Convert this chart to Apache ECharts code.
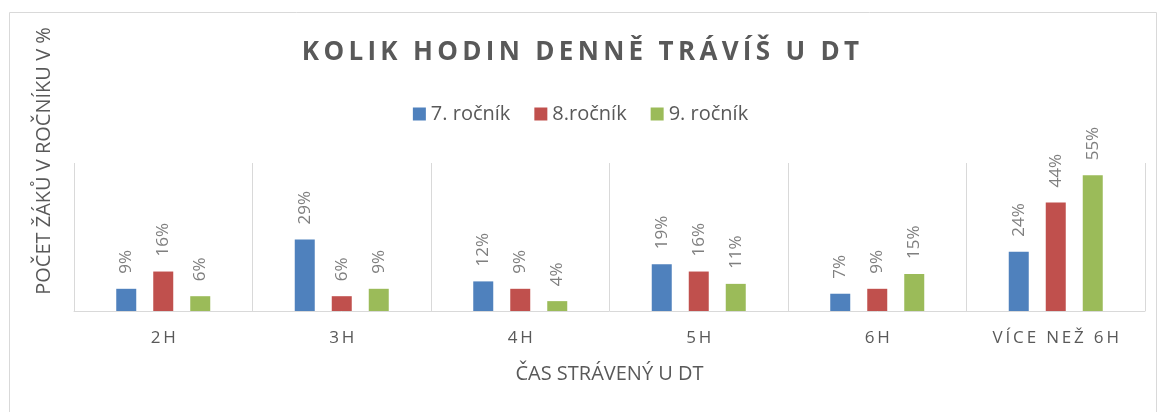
<!DOCTYPE html>
<html>
<head>
<meta charset="utf-8">
<script src="https://cdn.jsdelivr.net/npm/echarts@6/dist/echarts.min.js"></script>
<style>
  html, body { margin: 0; padding: 0; background: #fff; }
  #chart { width: 1161px; height: 412px; }
</style>
</head>
<body>
<div id="chart"></div>
<script>
// kategorie a hodnoty (v %)
const categories = ['2H', '3H', '4H', '5H', '6H', 'VÍCE NEŽ 6H'];
const seriesNames = ['7. ročník', '8.ročník', '9. ročník'];
const rocnik7 = [9, 29, 12, 19, 7, 24];
const rocnik8 = [16, 6, 9, 16, 9, 44];
const rocnik9 = [6, 9, 4, 11, 15, 55];
const colors = ['#4f81bd', '#c0504d', '#9bbb59'];

const chart = echarts.init(document.getElementById('chart'));

// proložení písmen mezerou (Excel má rozpal písmen)
const spaced = (s, sp) => s.split('').join(sp);

function barSeries(name, data, color) {
    return {
        name: name,
        type: 'bar',
        data: data,
        barWidth: 20,
        barGap: '85%',
        itemStyle: { color: color },
        label: {
            show: true,
            position: 'top',
            rotate: 90,
            align: 'left',
            verticalAlign: 'middle',
            distance: 15,
            color: '#7f7f7f',
            fontSize: 17,
            fontFamily: 'Open Sans',
            formatter: '{c}%'
        }
    };
}

chart.setOption({
    animation: false,
    color: colors,
    title: {
        text: spaced('KOLIK HODIN DENNĚ TRÁVÍŠ U DT', '\u2009'),
        left: 'center',
        top: 35,
        textStyle: {
            color: '#595959',
            fontSize: 26,
            fontWeight: 'bold',
            fontFamily: 'Open Sans'
        }
    },
    legend: {
        top: 99,
        left: 'center',
        itemWidth: 13,
        itemHeight: 13,
        itemGap: 24,
        icon: 'rect',
        textStyle: { color: '#595959', fontSize: 20, fontFamily: 'Open Sans' },
        data: seriesNames
    },
    graphic: [
        {
            type: 'rect',
            left: 7, top: 10,
            shape: { width: 1147, height: 420 },
            style: { fill: 'none', stroke: '#d9d9d9', lineWidth: 1 },
            silent: true
        },
        {
            type: 'text',
            x: 44, y: 161,
            rotation: Math.PI / 2,
            style: {
                text: 'POČET ŽÁKŮ V ROČNÍKU V %',
                fill: '#595959',
                fontSize: 20,
                fontFamily: 'Open Sans',
                align: 'center',
                verticalAlign: 'middle'
            }
        }
    ],
    grid: { left: 74, right: 16, top: 163, bottom: 101 },
    xAxis: {
        type: 'category',
        data: categories,
        name: 'ČAS STRÁVENÝ U DT',
        nameLocation: 'middle',
        nameGap: 53,
        nameTextStyle: { color: '#595959', fontSize: 20, fontFamily: 'Open Sans' },
        axisLine: { lineStyle: { color: '#d9d9d9' } },
        axisTick: { show: false },
        splitLine: { show: true, lineStyle: { color: '#d9d9d9' } },
        axisLabel: {
            color: '#595959',
            fontSize: 17,
            margin: 19,
            fontFamily: 'Open Sans',
            formatter: v => spaced(v, '\u2009')
        }
    },
    yAxis: {
        type: 'value',
        min: 0,
        max: 60,
        interval: 10,
        axisLine: { show: false },
        axisTick: { show: false },
        axisLabel: { show: false },
        splitLine: { show: false }
    },
    series: [
        barSeries(seriesNames[0], rocnik7, colors[0]),
        barSeries(seriesNames[1], rocnik8, colors[1]),
        barSeries(seriesNames[2], rocnik9, colors[2])
    ]
});
</script>
</body>
</html>
